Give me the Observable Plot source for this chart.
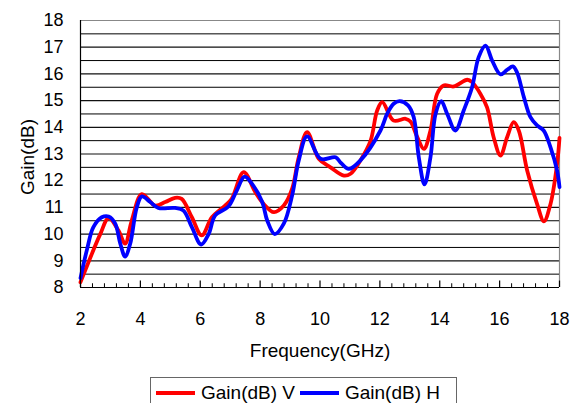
<!DOCTYPE html>
<html>
<head>
<meta charset="utf-8">
<script src="https://cdn.jsdelivr.net/npm/d3@7"></script>
<script src="https://cdn.jsdelivr.net/npm/@observablehq/plot@0.6"></script>
<style>
  html, body { margin: 0; padding: 0; background: #fff; }
  body { width: 571px; height: 403px; overflow: hidden; font-family: Arial, "Liberation Sans", sans-serif; }
  #legend { position: absolute; left: 150px; top: 377px; width: 307px; height: 32px; border: 1px solid #666; box-sizing: border-box; display: flex; align-items: center; font-size: 19px; color: #000; background: #fff; }
  .sw { display: inline-block; width: 39px; height: 4px; margin: 0 6px 0 5px; }
</style>
</head>
<body>
<div id="chart"></div>
<div id="legend"></div>
<script>
const seriesNames = ["Gain(dB) V", "Gain(dB) H"];
const seriesColors = ["#ff0000", "#0000ff"];

const freqV = [2.0, 2.38, 2.66, 2.94, 3.27, 3.49, 3.71, 4.05, 4.49, 4.83, 5.16, 5.38, 5.72, 6.05, 6.39, 6.83, 7.05, 7.45, 7.84, 8.12, 8.46, 8.79, 9.07, 9.29, 9.57, 9.96, 10.35, 10.8, 11.02, 11.35, 11.69, 11.91, 12.08, 12.46, 12.86, 13.02, 13.25, 13.47, 13.69, 13.91, 14.13, 14.47, 14.92, 15.08, 15.36, 15.58, 15.8, 16.03, 16.25, 16.47, 16.64, 16.92, 17.25, 17.48, 17.7, 17.92, 18.0];
const gainV = [8.2, 9.26, 10.0, 10.6, 10.13, 9.64, 10.5, 11.5, 11.07, 11.2, 11.36, 11.32, 10.63, 9.95, 10.63, 11.07, 11.32, 12.32, 11.57, 11.13, 10.82, 11.07, 11.7, 12.88, 13.82, 12.82, 12.5, 12.19, 12.26, 12.76, 13.5, 14.63, 14.94, 14.25, 14.32, 14.22, 13.63, 13.19, 13.88, 15.25, 15.57, 15.53, 15.78, 15.69, 15.25, 14.75, 13.63, 12.94, 13.63, 14.19, 13.88, 12.38, 11.13, 10.48, 11.13, 12.63, 13.6];

const freqH = [2.0, 2.21, 2.43, 2.71, 2.94, 3.16, 3.33, 3.49, 3.66, 3.88, 4.05, 4.33, 4.6, 5.16, 5.44, 5.72, 6.03, 6.28, 6.5, 6.94, 7.22, 7.48, 7.73, 8.07, 8.24, 8.49, 8.79, 9.07, 9.29, 9.57, 10.02, 10.52, 10.68, 10.96, 11.35, 12.02, 12.24, 12.46, 12.66, 12.94, 13.13, 13.3, 13.49, 13.69, 13.86, 14.05, 14.25, 14.52, 14.8, 15.08, 15.3, 15.53, 15.75, 16.03, 16.25, 16.44, 16.58, 16.81, 17.03, 17.25, 17.47, 17.7, 17.92, 18.0];
const gainH = [8.35, 9.39, 10.26, 10.63, 10.66, 10.39, 9.64, 9.16, 9.64, 11.0, 11.41, 11.2, 10.98, 10.98, 10.88, 10.26, 9.61, 10.0, 10.7, 11.03, 11.63, 12.15, 11.88, 11.2, 10.5, 10.0, 10.39, 11.45, 12.76, 13.66, 12.82, 12.88, 12.69, 12.44, 12.76, 13.88, 14.5, 14.88, 14.98, 14.82, 14.38, 12.88, 11.86, 12.88, 14.5, 14.98, 14.5, 13.88, 14.63, 15.5, 16.63, 17.06, 16.5, 15.98, 16.15, 16.28, 16.06, 15.13, 14.38, 14.07, 13.88, 13.25, 12.38, 11.76];

const xTicks = [2, 4, 6, 8, 10, 12, 14, 16, 18];
const yTicks = [8, 9, 10, 11, 12, 13, 14, 15, 16, 17, 18];

const dataV = freqV.map((f, i) => ({f, g: gainV[i]}));
const dataH = freqH.map((f, i) => ({f, g: gainH[i]}));
const xMinor = d3.range(0, (xTicks.length - 1) * 5 + 1).map(i => xTicks[0] + i * 0.4).filter(v => Math.abs(v / 2 - Math.round(v / 2)) > 1e-6);
const yMinor = yTicks.slice(0, -1).map(v => v + 0.5);
const grid = yTicks.slice(1, -1);

const chart = Plot.plot({
  width: 571,
  height: 368,
  marginLeft: 80,
  marginRight: 12,
  marginTop: 20,
  marginBottom: 81,
  style: {fontFamily: 'Arial, "Liberation Sans", sans-serif', color: "#000", background: "transparent"},
  x: {domain: [xTicks[0], xTicks[xTicks.length - 1]]},
  y: {domain: [yTicks[0], yTicks[yTicks.length - 1]]},
  marks: [
    Plot.ruleY(grid, {stroke: "#111", strokeWidth: 1.2}),
    Plot.ruleY([yTicks[yTicks.length - 1]], {stroke: "#888", strokeWidth: 1.2}),
    Plot.ruleX([xTicks[xTicks.length - 1]], {stroke: "#888", strokeWidth: 1.2}),
    Plot.tickY(yMinor, {x1: xTicks[0], x2: xTicks[0] + 0.15, stroke: "#000"}),
    Plot.ruleX(xMinor, {y1: yTicks[0], y2: yTicks[0] + 0.14, stroke: "#000"}),
    Plot.ruleX(xTicks, {y1: yTicks[0], y2: yTicks[0] + 0.24, stroke: "#000", strokeWidth: 1.2}),
    Plot.line(dataV, {x: "f", y: "g", stroke: seriesColors[0], strokeWidth: 3.8, curve: "catmull-rom"}),
    Plot.line(dataH, {x: "f", y: "g", stroke: seriesColors[1], strokeWidth: 3.8, curve: "catmull-rom"}),
    Plot.ruleX([xTicks[0]], {stroke: "#000", strokeWidth: 1.2}),
    Plot.ruleY([yTicks[0]], {stroke: "#000", strokeWidth: 1.2}),
    Plot.axisX({ticks: xTicks, tickSize: 0, tickPadding: 25, fontSize: 18, label: null, tickFormat: d => String(d)}),
    Plot.axisY({ticks: yTicks, tickSize: 0, tickPadding: 17, fontSize: 18, label: null, tickFormat: d => String(d)}),
    Plot.text(["Frequency(GHz)"], {frameAnchor: "bottom", dy: 69, fontSize: 19, fill: "#000"}),
    Plot.text(["Gain(dB)"], {frameAnchor: "left", dx: -53, dy: 3, rotate: -90, textAnchor: "middle", fontSize: 19, fill: "#000"})
  ]
});
document.getElementById("chart").appendChild(chart);

const legend = document.getElementById("legend");
seriesNames.forEach((name, i) => {
  const sw = document.createElement("span");
  sw.className = "sw";
  sw.style.background = seriesColors[i];
  const t = document.createElement("span");
  t.textContent = name;
  legend.appendChild(sw);
  legend.appendChild(t);
});
</script>
</body>
</html>
